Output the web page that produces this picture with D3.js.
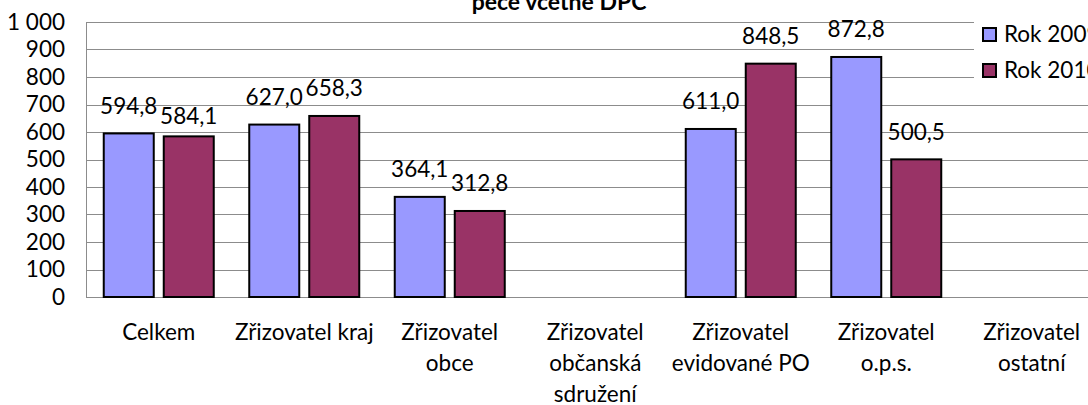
<!DOCTYPE html>
<html>
<head>
<meta charset="utf-8">
<script src="https://cdn.jsdelivr.net/npm/d3@7"></script>
<style>
  html, body { margin: 0; padding: 0; background: #fff; }
  svg { display: block; }
  text { font-family: Lato, "Open Sans", sans-serif; fill: #000; }
</style>
</head>
<body>
<svg id="chart" width="1088" height="405"></svg>
<script>
// ---- data ----
const titleText = "péče včetně DPC";
const categories = [
  "Celkem",
  "Zřizovatel kraj",
  "Zřizovatel\nobce",
  "Zřizovatel\nobčanská\nsdružení",
  "Zřizovatel\nevidované PO",
  "Zřizovatel\no.p.s.",
  "Zřizovatel\nostatní"
];
const seriesNames = ["Rok 2009", "Rok 2010"];
const values2009 = [594.8, 627.0, 364.1, null, 611.0, 872.8, null];
const values2010 = [584.1, 658.3, 312.8, null, 848.5, 500.5, null];
const yTicks = [0, 100, 200, 300, 400, 500, 600, 700, 800, 900, 1000];
const seriesColors = ["#9999FF", "#993366"];

// ---- layout ----
const W = 1088, H = 405;
const plotLeft = 86, plotTop = 22, plotBottom = 297;
const step = 145.5;
const plotRight = plotLeft + step * categories.length;
const fontSize = 22.5;

const loc = d3.formatLocale({ decimal: ",", thousands: "\u00a0", grouping: [3], currency: ["", ""] });
const fmtVal = loc.format(".1f");
const fmtTick = loc.format(",d");

const svg = d3.select("#chart");

const x0 = d3.scaleBand().domain(categories).range([plotLeft, plotRight]).padding(0);
const barW = 50, gap = 10;
const x1 = d3.scaleBand().domain(seriesNames).range([0, x0.bandwidth()])
  .paddingInner(gap / (barW + gap))
  .paddingOuter(((x0.bandwidth() / (barW + gap)) - (2 - gap / (barW + gap))) / 2);
const y = d3.scaleLinear().domain([0, 1000]).range([plotBottom, plotTop]);

// gridlines
svg.append("g")
  .selectAll("line").data(yTicks).join("line")
  .attr("x1", plotLeft).attr("x2", plotRight)
  .attr("y1", d => Math.round(y(d)) + 0.5).attr("y2", d => Math.round(y(d)) + 0.5)
  .attr("stroke", "#8c8c8c").attr("stroke-width", 1);

// y axis line
svg.append("line")
  .attr("x1", plotLeft + 0.5).attr("x2", plotLeft + 0.5)
  .attr("y1", plotTop).attr("y2", plotBottom)
  .attr("stroke", "#8c8c8c");

// y axis labels
const yAxis = d3.axisLeft(y).tickValues(yTicks).tickFormat(fmtTick).tickSize(0).tickPadding(21);
const gy = svg.append("g").attr("transform", `translate(${plotLeft},0)`).call(yAxis);
gy.select(".domain").remove();
gy.selectAll("text").attr("font-size", fontSize).attr("font-family", "Lato, sans-serif").attr("fill", "#000");

// bars
const series = [values2009, values2010];
const rows = [];
categories.forEach((c, i) => {
  series.forEach((vals, s) => {
    if (vals[i] != null) rows.push({ cat: c, s, name: seriesNames[s], v: vals[i], i });
  });
});

svg.append("g").selectAll("rect").data(rows).join("rect")
  .attr("x", d => x0(d.cat) + x1(d.name))
  .attr("y", d => y(d.v))
  .attr("width", x1.bandwidth())
  .attr("height", d => y(0) - y(d.v))
  .attr("fill", d => seriesColors[d.s])
  .attr("stroke", "#000").attr("stroke-width", 2);

// data labels
const labelNudge = { "0-1": 7 };
svg.append("g").selectAll("text").data(rows).join("text")
  .attr("x", d => x0(d.cat) + x1(d.name) + x1.bandwidth() / 2)
  .attr("y", d => y(d.v) - 19.5 + (labelNudge[d.i + "-" + d.s] || 0))
  .attr("text-anchor", "middle")
  .attr("font-size", fontSize)
  .text(d => fmtVal(d.v));

// category labels
const xl = svg.append("g");
categories.forEach(c => {
  const lines = c.split("\n");
  const cx = x0(c) + x0.bandwidth() / 2;
  const t = xl.append("text")
    .attr("x", cx)
    .attr("y", 340)
    .attr("text-anchor", "middle")
    .attr("font-size", fontSize);
  lines.forEach((ln, k) => {
    t.append("tspan").attr("x", cx).attr("y", 340 + k * 31).text(ln);
  });
});

// title (only lower line visible)
svg.append("text")
  .attr("x", 559).attr("y", 10)
  .attr("text-anchor", "middle")
  .attr("font-size", 23).attr("font-weight", "bold")
  .text(titleText);

// legend
const lg = svg.append("g");
lg.append("rect").attr("x", 974).attr("y", 12).attr("width", W - 974).attr("height", 80).attr("fill", "#fff");
seriesNames.forEach((n, k) => {
  const yy = 27 + k * 36;
  lg.append("rect").attr("x", 983).attr("y", yy + 1).attr("width", 13).attr("height", 13)
    .attr("fill", seriesColors[k]).attr("stroke", "#000").attr("stroke-width", 2);
  lg.append("text").attr("x", 1004).attr("y", yy + 14.5).attr("font-size", fontSize).text(n);
});
</script>
</body>
</html>
